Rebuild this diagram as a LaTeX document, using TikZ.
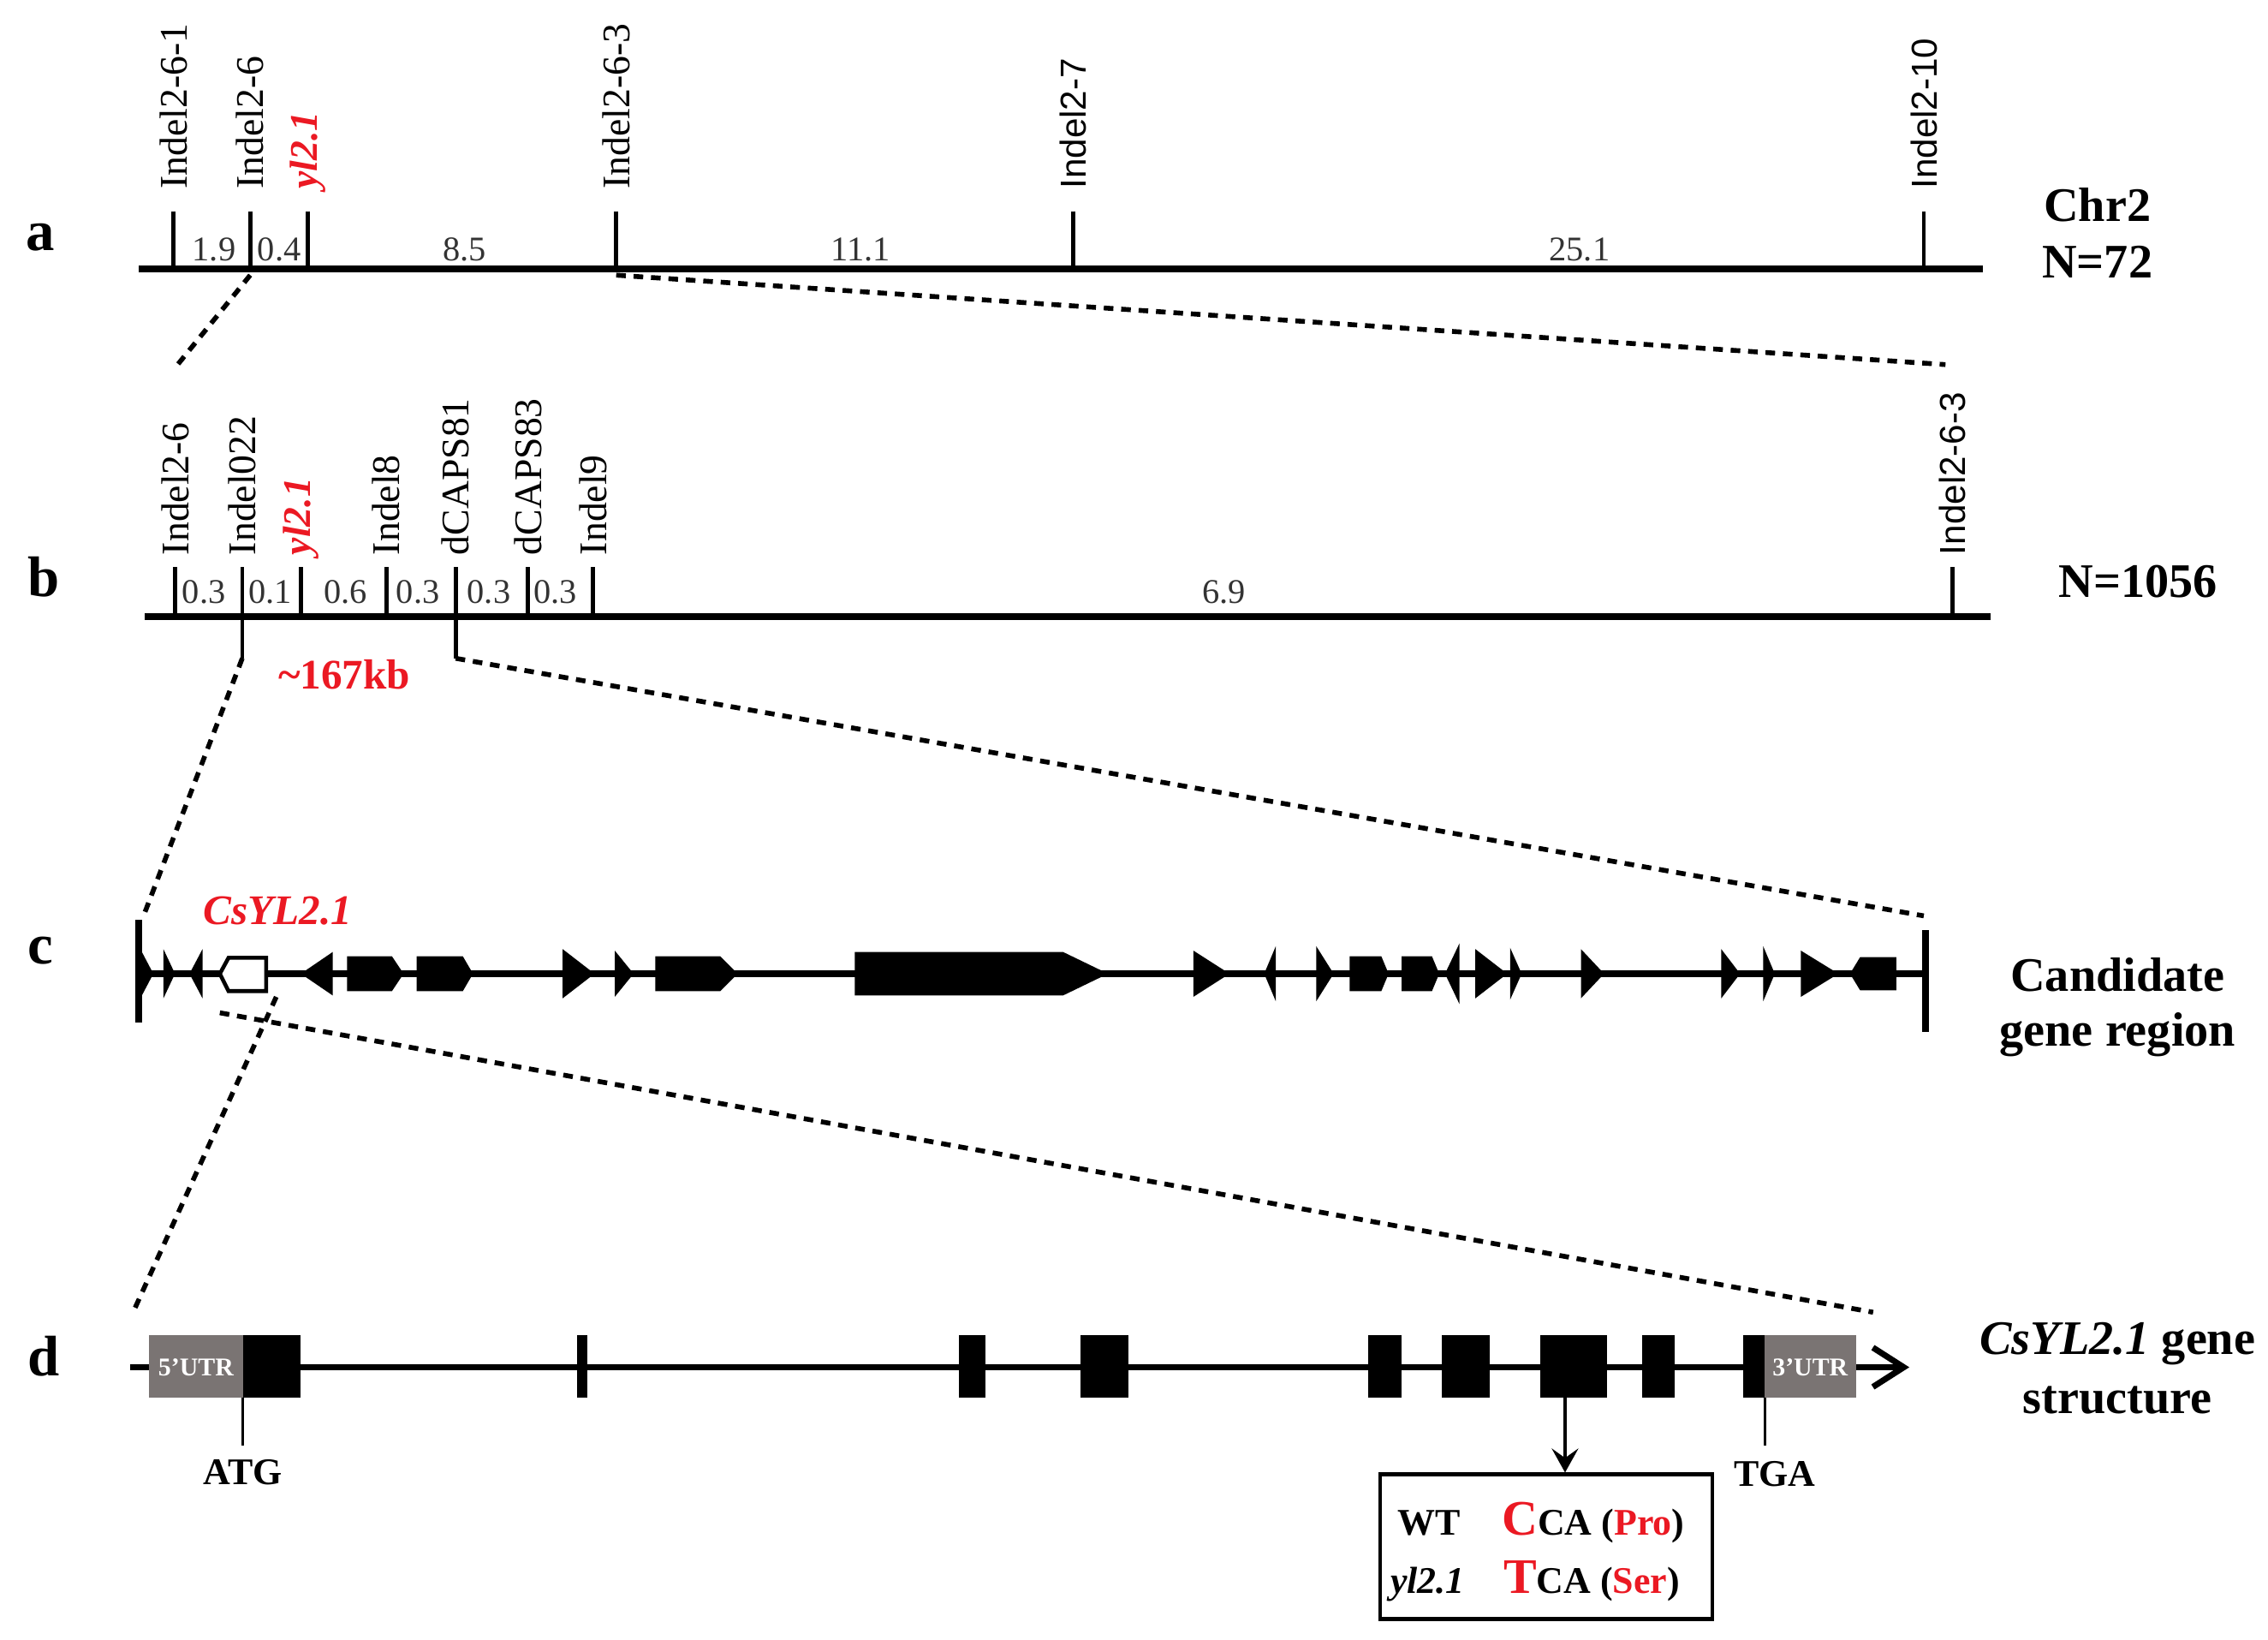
\documentclass[tikz,border=0pt]{standalone}
\usepackage{fontspec}
\setmainfont{Liberation Serif}
\newfontfamily\lsans{Liberation Sans}
\usetikzlibrary{arrows.meta}
\definecolor{myred}{RGB}{235,25,35}
\definecolor{utrgray}{RGB}{122,116,115}
\newcommand\gtri[3]{\fill (#1,{673-#3}) -- (#2,673) -- (#1,{673+#3}) -- cycle;}
\newcommand\gpr[4]{\fill (#1,{673-#4}) -- (#3,{673-#4}) -- (#2,673) -- (#3,{673+#4}) -- (#1,{673+#4}) -- cycle;}
\newcommand\gpl[4]{\fill (#1,673) -- (#2,{673-#4}) -- (#3,{673-#4}) -- (#3,{673+#4}) -- (#2,{673+#4}) -- cycle;}
\begin{document}
\begin{tikzpicture}[x=0.16894mm,y=-0.16894mm,
  chrline/.style={line width=2.3pt},
  tickline/.style={line width=1.4pt},
  zoomline/.style={line width=1.6pt, dash pattern=on 3.2pt off 2.6pt},
  mk/.style={rotate=90, anchor=west, inner sep=0pt, font=\fontsize{13}{15}\selectfont},
  mks/.style={rotate=90, anchor=west, inner sep=0pt, font=\lsans\fontsize{12}{14}\selectfont},
  mkr/.style={mk, text=myred, font=\bfseries\itshape\fontsize{13}{15}\selectfont},
  dist/.style={anchor=base, inner sep=0pt, font=\fontsize{11.5}{13}\selectfont, text=black!80},
  panel/.style={anchor=base, inner sep=0pt, font=\bfseries\fontsize{19}{21}\selectfont},
  side/.style={anchor=base, inner sep=0pt, font=\bfseries\fontsize{16}{18}\selectfont},
  codon/.style={anchor=base west, inner sep=0pt, font=\bfseries\fontsize{12.5}{14}\selectfont},
  utrtext/.style={text=white, inner sep=0pt, font=\bfseries\fontsize{8.5}{9}\selectfont},
  stop/.style={anchor=base, inner sep=0pt, font=\bfseries\fontsize{12.5}{14}\selectfont},
]
\useasboundingbox (0,0) rectangle (1568,1133.5);

% ---------------- panel a ----------------
\node[panel] (la) at (28,173) {a};
\draw[chrline] (96,186) -- (1371,186);
\foreach \x/\n in {120/a1,173/a2,213/a3,426/a4,742/a5,1330/a6}{
  \coordinate (\n) at (\x,186);
  \draw[tickline] (\x,146) -- (\n);
}
\node[mk]  (ta1) at (120,131) {Indel2-6-1};
\node[mk]  (ta2) at (173,131) {Indel2-6};
\node[mkr] (ta3) at (213,131) {yl2.1};
\node[mk]  (ta4) at (426,131) {Indel2-6-3};
\node[mks] (ta5) at (742,131) {Indel2-7};
\node[mks] (ta6) at (1330,131) {Indel2-10};
\node[dist] (da1) at (148,180.5) {1.9};
\node[dist] (da2) at (193,180.5) {0.4};
\node[dist] (da3) at (321,180.5) {8.5};
\node[dist] (da4) at (595,180.5) {11.1};
\node[dist] (da5) at (1092,180.5) {25.1};
\node[side] (chr) at (1450,153) {Chr2};
\node[side] (na) at (1450,192) {N=72};

% ---------------- panel b ----------------
\node[panel] (lb) at (30,412) {b};
\draw[chrline] (100,426) -- (1376,426);
\foreach \x/\n in {121/b1,167.5/b2,208/b3,267/b4,315/b5,365/b6,410/b7,1350/b8}{
  \coordinate (\n) at (\x,426);
  \draw[tickline] (\x,392) -- (\n);
}
\coordinate (b2bot) at (167.5,455);
\coordinate (b5bot) at (315,455);
\draw[tickline] (b2) -- (b2bot);
\draw[tickline] (b5) -- (b5bot);
\node[mk]  (tb1) at (121,384) {Indel2-6};
\node[mk]  (tb2) at (167.5,384) {Indel022};
\node[mkr] (tb3) at (208,384) {yl2.1};
\node[mk]  (tb4) at (267,384) {Indel8};
\node[mk]  (tb5) at (315,384) {dCAPS81};
\node[mk]  (tb6) at (365,384) {dCAPS83};
\node[mk]  (tb7) at (410,384) {Indel9};
\node[mks] (tb8) at (1350,384) {Indel2-6-3};
\node[dist] (db1) at (141,417) {0.3};
\node[dist] (db2) at (187,417) {0.1};
\node[dist] (db3) at (239,417) {0.6};
\node[dist] (db4) at (289,417) {0.3};
\node[dist] (db5) at (338,417) {0.3};
\node[dist] (db6) at (384,417) {0.3};
\node[dist] (db7) at (846,417) {6.9};
\node[anchor=base, inner sep=0pt, text=myred, font=\bfseries\fontsize{14}{16}\selectfont] (kb) at (238,476) {\textasciitilde 167kb};
\node[side] (nb) at (1478,413) {N=1056};

% ---------------- panel c ----------------
\node[panel] (lc) at (28,666) {c};
\draw[line width=2pt] (95,673) -- (1331,673);
\draw[line width=2.3pt] (96,636) -- (96,707);
\draw[line width=2.3pt] (1331,643) -- (1331,713);
\gtri{96}{106}{19}
\gtri{113}{121}{17}
\gtri{140}{131}{17}
\draw[line width=1.3pt, fill=white] (152,673) -- (158,662) -- (184,662) -- (184,685) -- (158,685) -- cycle;
\gtri{230}{208}{15}
\gpr{240}{279}{271}{12}
\gpr{288}{327}{320}{12}
\gtri{389}{411}{17}
\gtri{425}{438}{16}
\gpr{453}{510}{498}{12}
\gpr{591}{766}{735}{15}
\gtri{825}{850}{16}
\gtri{882}{874}{19}
\gtri{910}{922}{19}
\gpr{933}{960}{955}{12}
\gpr{969}{995}{990}{12}
\gtri{1009}{999}{21}
\gtri{1020}{1042}{17}
\gtri{1044}{1052}{18}
\gtri{1093}{1109}{17}
\gtri{1190}{1203}{17}
\gtri{1219}{1227}{19}
\gtri{1245}{1271}{16}
\gpl{1279}{1286}{1311}{11.5}
\node[anchor=base, inner sep=0pt, text=myred, font=\bfseries\itshape\fontsize{14}{16}\selectfont] (gname) at (192,639) {CsYL2.1};
\node[side] (cand1) at (1464,685) {Candidate};
\node[side] (cand2) at (1464,723) {gene region};

% ---------------- panel d ----------------
\node[panel] (ld) at (30,951) {d};
\draw[line width=2pt, -{Straight Barb[length=3.6mm,width=4.6mm,line width=2pt]}] (90,945) -- (1320,945);
\fill[utrgray] (103,923) rectangle (168,966);
\fill (168,923) rectangle (208,966);
\fill (399,923) rectangle (406,966);
\fill (663,923) rectangle (681,966);
\fill (747,923) rectangle (780,966);
\fill (946,923) rectangle (969,966);
\fill (997,923) rectangle (1030,966);
\fill (1065,923) rectangle (1111,966);
\fill (1135,923) rectangle (1158,966);
\fill (1205,923) rectangle (1220,966);
\fill[utrgray] (1220,923) rectangle (1283,966);
\node[utrtext] (u5) at (135.5,945) {5'UTR};
\node[utrtext] (u3) at (1251.5,945) {3'UTR};
\coordinate (atg) at (168,966);
\coordinate (tga) at (1220,966);
\coordinate (ex7) at (1082,966);
\draw[line width=0.8pt] (atg) -- ++(0,33);
\draw[line width=0.8pt] (tga) -- ++(0,33);
\node[stop] (atgl) at (168,1026) {ATG};
\node[stop] (tgal) at (1227,1027) {TGA};
\node[draw, line width=1.2pt, inner sep=0pt, minimum width=38.86mm, minimum height=16.89mm] (mut) at (1069,1069) {};
\draw[line width=1.4pt, -{Stealth[length=2.8mm,width=3.1mm,inset=1.1mm]}] (ex7) -- (ex7 |- mut.north);
\node[codon] (wt) at (966,1061) {WT};
\node[codon] (wtc) at (1038,1061) {{\fontsize{16.5}{17}\selectfont\textcolor{myred}{C}}CA (\textcolor{myred}{Pro})};
\node[codon] (mu) at (961,1101) {\textit{yl2.1}};
\node[codon] (muc) at (1039,1101) {{\fontsize{16.5}{17}\selectfont\textcolor{myred}{T}}CA (\textcolor{myred}{Ser})};
\node[side] (gs1) at (1464,936) {\textit{CsYL2.1} gene};
\node[side] (gs2) at (1464,977) {structure};

% ---------------- zoom connectors ----------------
\coordinate (b1top) at (122,253);
\coordinate (b8top) at (1345,252);
\coordinate (cL) at (100,631);
\coordinate (cR) at (1330,633);
\coordinate (gR) at (191,689);
\coordinate (gL) at (152,700);
\coordinate (dL) at (92,907);
\coordinate (dR) at (1295,907);
\draw[zoomline] ([yshift=-2pt]a2) -- (b1top);
\draw[zoomline] ([yshift=-2pt]a4) -- (b8top);
\draw[zoomline] (b2bot) -- (cL);
\draw[zoomline] (b5bot) -- (cR);
\draw[zoomline] (gR) -- (dL);
\draw[zoomline] (gL) -- (dR);
\end{tikzpicture}
\end{document}
